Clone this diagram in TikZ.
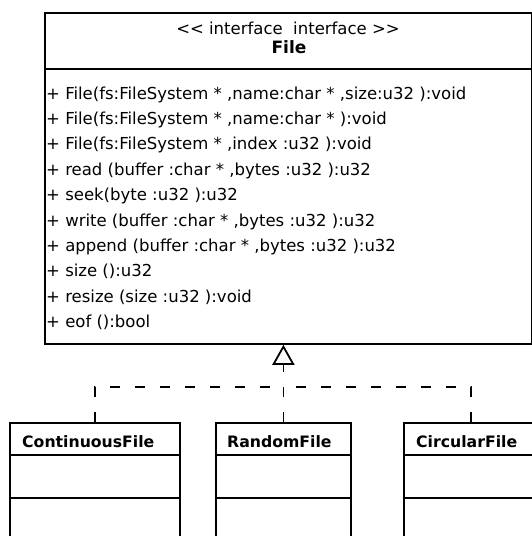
\documentclass[tikz,border=0pt]{standalone}
\usepackage{fontspec}
\setmainfont{DejaVu Sans}
\usetikzlibrary{arrows.meta}
\begin{document}
\begin{tikzpicture}[x=1pt,y=-1pt,
  box/.style={draw, line width=1.8pt, anchor=north west, inner sep=0pt},
  sep/.style={line width=1.4pt},
  meth/.style={anchor=base west, inner sep=0pt, font=\fontsize{16.5}{20}\selectfont},
  cname/.style={anchor=base west, inner sep=0pt, font=\fontsize{15.7}{19}\selectfont\bfseries},
  realize/.style={line width=1.8pt, dash pattern=on 10pt off 15pt},
  tip/.style={-{Triangle[open, length=20pt, width=22pt, line width=1.8pt]}}
]
\useasboundingbox (0,0) rectangle (531,536);
% interface box
\node[box, minimum width=486.5pt, minimum height=331pt] (file) at (44,12) {};
\draw[sep] (44,69) -- (530.5,69);
\node[meth, anchor=base] (stereo) at (288,34) {{<}{<}\ interface\ \ interface\ {>}{>}};
\node[anchor=base, inner sep=0pt, font=\fontsize{17}{20}\selectfont\bfseries] (fname) at (289,53) {File};
\node[meth] (m1) at (46,99.0) {+ File(fs:FileSystem * ,name:char * ,size:u32 ):void};
\node[meth] (m2) at (46,124.4) {+ File(fs:FileSystem * ,name:char * ):void};
\node[meth] (m3) at (46,149.8) {+ File(fs:FileSystem * ,index :u32 ):void};
\node[meth] (m4) at (46,175.2) {+ read (buffer :char * ,bytes :u32 ):u32};
\node[meth] (m5) at (46,200.6) {+ seek(byte :u32 ):u32};
\node[meth] (m6) at (46,226.0) {+ write (buffer :char * ,bytes :u32 ):u32};
\node[meth] (m7) at (46,251.4) {+ append (buffer :char * ,bytes :u32 ):u32};
\node[meth] (m8) at (46,276.8) {+ size ():u32};
\node[meth] (m9) at (46,302.2) {+ resize (size :u32 ):void};
\node[meth] (m10) at (46,327.6) {+ eof ():bool};
% implementing classes
\node[box, minimum width=169.4pt, minimum height=150pt] (cont) at (9.3,422) {};
\node[box, minimum width=135pt, minimum height=150pt] (rand) at (215,422) {};
\node[box, minimum width=134.3pt, minimum height=150pt] (circ) at (402.7,422) {};
\draw[sep] (9.3,455) -- (178.7,455);
\draw[sep] (9.3,498) -- (178.7,498);
\draw[sep] (215,455) -- (350,455);
\draw[sep] (215,498) -- (350,498);
\draw[sep] (402.7,455) -- (537,455);
\draw[sep] (402.7,498) -- (537,498);
\node[cname] (contn) at (22,447) {ContinuousFile};
\node[cname] (randn) at (227,447) {RandomFile};
\node[cname] (circn) at (416,447) {CircularFile};
% realization connectors
\coordinate (j) at (282.5,387);
\draw[realize, tip] (rand.north) -- (rand.north |- file.south);
\draw[realize] (cont.north) -- (cont.north |- j) -- (j);
\draw[realize] (circ.north) -- (circ.north |- j) -- (j);
\end{tikzpicture}
\end{document}
